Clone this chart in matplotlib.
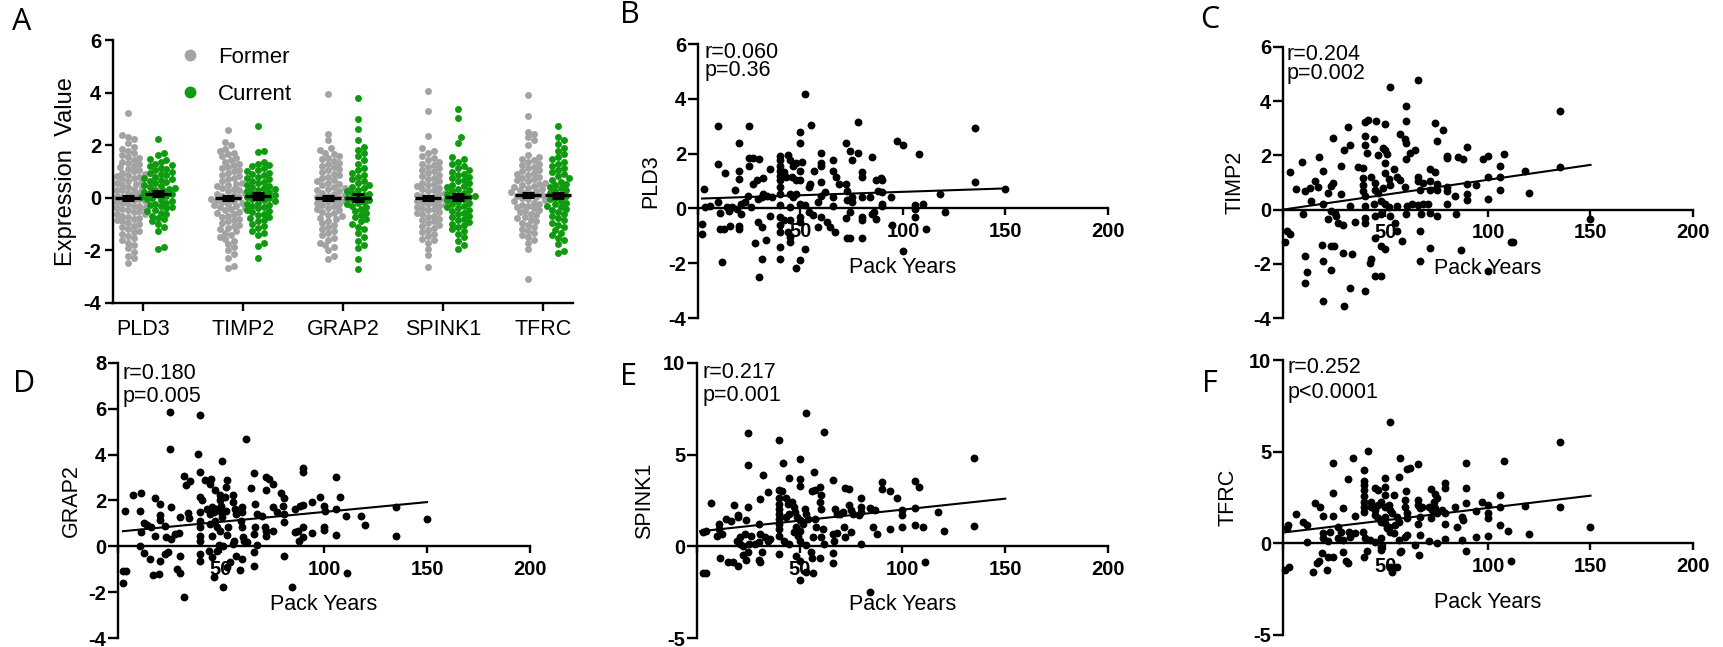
import numpy as np
import matplotlib
matplotlib.use('Agg')
import matplotlib.pyplot as plt
from matplotlib.lines import Line2D

plt.rcParams['font.family'] = 'sans-serif'
plt.rcParams['font.sans-serif'] = ['Liberation Sans', 'Arial', 'DejaVu Sans']
plt.rcParams['axes.unicode_minus'] = False

# ---------------- Panel A data (expression by smoking status) ----------------
genes = ['PLD3', 'TIMP2', 'GRAP2', 'SPINK1', 'TFRC']

former_pld3 = [3.23, 2.38, 2.3, 2.22, 2.08, 1.95, 1.85, 1.78, 1.7, 1.62, 1.55, 1.5, 1.44,
               1.38, 1.32, 1.28, 1.22, 1.16, 1.1, 1.05, 1.0, 0.96, 0.92, 0.88,
               0.84, 0.8, 0.76, 0.72, 0.68, 0.64, 0.6, 0.58, 0.54, 0.5, 0.46, 0.42, 0.38, 0.35, 0.3,
               0.28, 0.24, 0.2, 0.17, 0.13, 0.1, 0.06, 0.03, 0.0,
               -0.02, -0.06, -0.1, -0.13, -0.17, -0.2, -0.24, -0.27, -0.3,
               -0.33, -0.37, -0.4, -0.44, -0.48, -0.52, -0.55, -0.6,
               -0.63, -0.68, -0.72, -0.76, -0.8, -0.85, -0.9, -0.95, -1.0, -1.06, -1.12,
               -1.18, -1.25, -1.3, -1.38, -1.45, -1.52, -1.6, -1.7, -1.8, -1.92,
               -2.05, -2.2, -2.3, -2.48]
current_pld3 = [2.25, 1.7, 1.62, 1.48, 1.42, 1.36, 1.3, 1.25, 1.2, 1.14, 1.08,
                1.04, 0.98, 0.94, 0.9, 0.85, 0.8, 0.76, 0.72, 0.68, 0.64, 0.6, 0.55, 0.5,
                0.46, 0.42, 0.38, 0.34, 0.3, 0.26, 0.22, 0.18,
                0.14, 0.1, 0.06, 0.02, -0.02, -0.06, -0.1,
                -0.14, -0.18, -0.22, -0.27, -0.32, -0.36, -0.4, -0.45, -0.5, -0.56, -0.62,
                -0.68, -0.75, -0.82, -0.9, -1.0, -1.1, -1.25, -1.88, -1.93]
former_timp2 = [2.58, 2.12, 2.02, 1.85, 1.78, 1.72, 1.66, 1.58, 1.5, 1.44, 1.38,
                1.3, 1.24, 1.18, 1.12, 1.06, 1.0, 0.94, 0.88, 0.82, 0.76, 0.7,
                0.64, 0.58, 0.53, 0.48, 0.43, 0.38, 0.33,
                0.28, 0.24, 0.2, 0.15, 0.11, 0.07, 0.03, 0.0,
                -0.03, -0.07, -0.11, -0.15, -0.19, -0.23, -0.27, -0.31,
                -0.35, -0.4, -0.44, -0.48, -0.53, -0.58, -0.63,
                -0.68, -0.73, -0.79, -0.85, -0.9, -0.96,
                -1.02, -1.08, -1.14, -1.2, -1.27, -1.34, -1.4, -1.48, -1.56,
                -1.65, -1.75, -1.88, -2.0, -2.12, -2.3, -2.58, -2.66]
current_timp2 = [2.72, 1.78, 1.74, 1.35, 1.3, 1.25, 1.2, 1.12, 1.06, 1.0, 0.95, 0.9,
                 0.85, 0.8, 0.75, 0.7, 0.65, 0.6, 0.55, 0.5, 0.46, 0.42, 0.38, 0.34, 0.3,
                 0.26, 0.22, 0.18, 0.14, 0.1, 0.06, 0.02,
                 -0.02, -0.06, -0.1, -0.14, -0.18, -0.22, -0.26,
                 -0.3, -0.35, -0.4, -0.45, -0.5, -0.55, -0.6, -0.66, -0.72, -0.78, -0.84,
                 -0.9, -0.98, -1.06, -1.14, -1.25, -1.34, -1.42, -1.7, -1.82, -2.3]
former_grap2 = [3.93, 2.42, 2.2, 1.88, 1.8, 1.72, 1.66, 1.58, 1.52, 1.46, 1.4, 1.34,
                1.28, 1.22, 1.16, 1.1, 1.04, 0.98, 0.92, 0.86, 0.8, 0.74, 0.68, 0.62, 0.57,
                0.52, 0.47, 0.42, 0.37, 0.32, 0.28, 0.24, 0.2,
                0.16, 0.12, 0.08, 0.04, 0.0, -0.04, -0.08, -0.12,
                -0.16, -0.2, -0.24, -0.28, -0.33, -0.38, -0.43,
                -0.48, -0.53, -0.58, -0.64, -0.7, -0.76,
                -0.82, -0.88, -0.95, -1.02, -1.1, -1.18, -1.26, -1.34, -1.42,
                -1.52, -1.6, -1.7, -1.8, -1.88, -2.0, -2.2, -2.32]
current_grap2 = [3.8, 3.0, 2.6, 2.2, 1.92, 1.82, 1.7, 1.6, 1.45, 1.3,
                 1.15, 1.05, 0.95, 0.86, 0.78, 0.7, 0.62, 0.55, 0.48, 0.42, 0.36, 0.3, 0.25,
                 0.2, 0.15, 0.1, 0.05, 0.0, -0.05, -0.1,
                 -0.15, -0.2, -0.25, -0.3, -0.36, -0.42, -0.5, -0.58, -0.66, -0.74, -0.82,
                 -0.9, -1.0, -1.1, -1.2, -1.35, -1.5, -1.65, -1.8, -1.9, -2.34, -2.72]
former_spink1 = [4.07, 3.3, 2.34, 1.88, 1.78, 1.7, 1.6, 1.52, 1.45, 1.38,
                 1.3, 1.24, 1.18, 1.12, 1.06, 1.0, 0.94, 0.88, 0.82, 0.76, 0.7,
                 0.64, 0.58, 0.53, 0.48, 0.43, 0.38, 0.33,
                 0.28, 0.24, 0.2, 0.15, 0.11, 0.07, 0.03, 0.0,
                 -0.03, -0.07, -0.11, -0.15, -0.19, -0.23, -0.27, -0.31,
                 -0.35, -0.4, -0.44, -0.48, -0.53, -0.58, -0.63,
                 -0.68, -0.73, -0.79, -0.85, -0.9, -0.96,
                 -1.02, -1.08, -1.15, -1.22, -1.3, -1.38, -1.46, -1.55, -1.62,
                 -1.7, -1.95, -2.18, -2.65]
current_spink1 = [3.36, 3.05, 2.3, 2.1, 1.56, 1.46, 1.38, 1.3,
                  1.22, 1.14, 1.06, 0.98, 0.92, 0.86, 0.8, 0.74, 0.68, 0.62, 0.56,
                  0.5, 0.45, 0.4, 0.35, 0.3, 0.25, 0.2,
                  0.15, 0.1, 0.06, 0.02, -0.02, -0.06, -0.1,
                  -0.15, -0.2, -0.25, -0.3, -0.35, -0.4, -0.45,
                  -0.5, -0.56, -0.62, -0.68, -0.74, -0.8,
                  -0.86, -0.92, -0.98, -1.05, -1.12, -1.2, -1.28, -1.38,
                  -1.5, -1.65, -1.8, -1.95]
former_tfrc = [3.9, 3.1, 2.52, 2.44, 2.3, 2.2, 2.02, 1.62, 1.55, 1.48, 1.42,
               1.36, 1.3, 1.24, 1.18, 1.12, 1.06, 1.0, 0.95, 0.9, 0.85, 0.8, 0.75, 0.7,
               0.66, 0.62, 0.58, 0.54, 0.5, 0.46, 0.42, 0.38,
               0.34, 0.3, 0.26, 0.22, 0.18, 0.14, 0.1, 0.06, 0.02,
               -0.02, -0.06, -0.1, -0.14, -0.18, -0.22, -0.26, -0.3,
               -0.35, -0.4, -0.45, -0.5, -0.55, -0.6,
               -0.66, -0.72, -0.78, -0.84, -0.9, -0.96, -1.03, -1.1, -1.18,
               -1.26, -1.34, -1.42, -1.5, -1.6, -1.72, -1.95, -3.09]
current_tfrc = [2.74, 2.3, 2.2, 2.05, 1.9, 1.78, 1.66, 1.56, 1.46, 1.38, 1.3,
                1.22, 1.14, 1.06, 0.98, 0.9, 0.82, 0.75, 0.68, 0.61, 0.54, 0.48,
                0.42, 0.36, 0.3, 0.24, 0.18, 0.12, 0.06,
                0.0, -0.06, -0.12, -0.18, -0.24, -0.3,
                -0.36, -0.42, -0.48, -0.55, -0.62, -0.7, -0.78, -0.86, -0.94,
                -1.02, -1.12, -1.22, -1.32, -1.42, -1.52, -1.62, -1.77, -2.02, -2.1]

former_means = [0.0, 0.0, 0.0, 0.0, 0.1]
current_means = [0.16, 0.08, 0.01, 0.03, 0.09]
former_sem = [0.08, 0.08, 0.08, 0.08, 0.08]
current_sem = [0.11, 0.11, 0.12, 0.11, 0.11]

# ---------------- Panels B-F data: (pack years, expression) ----------------
pld3_points = [(52, 4.17), (10, 3.02), (25, 3.02), (55, 3.04), (78, 3.15), (135, 2.92), (50, 2.78), (50, 2.39),
               (20, 2.38), (72, 2.39), (97, 2.47), (100, 2.32), (108, 1.98), (10, 1.62), (13, 1.28), (20, 1.38),
               (20, 1.08), (18, 0.68), (3, 0.72), (25, 1.83), (27, 1.83), (30, 1.81), (25, 1.53), (27, 0.9),
               (29, 1.02), (31.5, 1.12), (35, 1.44), (40, 1.93), (40, 1.75), (40, 1.56), (40, 1.38), (40, 1.2),
               (40, 1.02), (40, 0.78), (40, 0.53), (40, 0.11), (40, -0.32), (40, -0.62), (40, -0.86), (40, -1.41),
               (40, -1.83), (44, 1.96), (45, 1.75), (46.5, 1.56), (48, 1.65), (50.5, 1.68), (42, 1.32), (43, 1.14),
               (46, 1.14), (48, 1.02), (50, 1.38), (50, 1.02), (54, 0.78), (54.5, 0.9), (56.5, 1.36), (45, 0.53),
               (46.5, 0.41), (48, 0.53), (50, 0.17), (52, 0.11), (45, 0.05), (54, -0.13), (56, -0.25), (50, -0.32),
               (50, -0.5), (45, -0.44), (42, -0.44), (44, -0.86), (45, -1.04), (45, -1.22), (52, -1.5), (50, -1.89),
               (48, -2.17), (30, -2.5), (31, -1.83), (28, -1.25), (33, -1.16), (29.5, -0.5), (31, -0.68), (35, -0.29),
               (11.5, -1.95), (2, -0.56), (2, -0.92), (10.5, -0.74), (12.5, -0.74), (15.5, -0.64), (20, -0.64),
               (20, -0.76), (10.5, -0.17), (15, -0.11), (21, -0.19), (3.5, 0.05), (6, 0.07), (10, 0.23), (14, 0.05),
               (16.5, 0.05), (19, -0.01), (21, 0.15), (23, 0.23), (24.5, 0.47), (26, 0.05), (29.5, 0.35), (31, 0.41),
               (33.5, 0.47), (36, 0.41), (31.5, 0.53), (60, 2.01), (60, 1.65), (60, 1.53), (60, 0.96), (60, 0.47),
               (58.5, 0.23), (60, -0.32), (58.5, -0.68), (62, 0.59), (63, -0.5), (64.5, -0.68), (66, 1.75), (66, 1.38),
               (67.5, 1.14), (66, 0.41), (66, 0.07), (67, -0.86), (69, 0.9), (72, 0.9), (72.5, 0.65), (72.5, 0.29),
               (72, -0.34), (72.5, -1.08), (74, -1.08), (75, 1.77), (74, 2.11), (78, 2.01), (75, 0.41), (75, 0.23),
               (74, -0.13), (80, 1.32), (80, 1.14), (80, 0.41), (80, -0.32), (80, -0.41), (80, -1.08), (84, 0.41),
               (85, 1.89), (85, -0.19), (86, -0.13), (87, 1.02), (89.5, 1.12), (90, 1.02), (88, 0.65), (90, 0.59),
               (90, 0.17), (90, 0.07), (87, -0.38), (94, 0.41), (94.5, -0.62), (100, -1.55), (106, 0.11),
               (106, -0.01), (106, -0.32), (110, 0.17), (111, -0.76), (118, 0.53), (120.5, -0.13), (135, 0.98),
               (150, 0.72)]

timp2_points = [(66, 4.78), (52, 4.51), (60, 3.84), (135, 3.62), (40, 3.23), (41.5, 3.29), (45.5, 3.26), (50, 3.17),
                (60, 3.26), (74, 3.2), (78, 2.95), (31.5, 3.05), (24.5, 2.65), (40, 2.71), (44.5, 2.6), (57, 2.78),
                (59.5, 2.62), (60, 2.46), (32.5, 2.4), (30, 2.2), (40, 2.38), (41, 2.1), (49, 2.29), (50, 2.2),
                (50.5, 2.07), (46.5, 2.01), (75, 2.52), (64.5, 2.2), (62, 2.1), (60, 1.85), (90, 2.32), (108, 2.07),
                (80, 1.98), (80, 1.89), (85.5, 1.95), (88, 1.85), (97.5, 1.85), (100, 1.98), (17.5, 1.93), (9.5, 1.77),
                (3.5, 1.38), (19.5, 1.43), (28.5, 1.61), (36.5, 1.56), (39, 1.52), (50, 1.71), (54, 1.49), (71.5, 1.5),
                (74, 1.4), (106, 1.61), (118, 1.44), (135, 1.59), (15.5, 1.07), (17, 0.85), (13, 0.79), (10.5, 0.67),
                (6.5, 0.76), (24.5, 1.0), (23.5, 0.88), (22, 0.61), (28.5, 0.57), (39, 1.16), (39, 0.91), (39, 0.67),
                (40, 0.49), (43, 1.22), (45, 0.98), (45, 0.71), (46.5, 0.61), (50, 1.34), (51.5, 1.12), (52, 0.91),
                (49, 0.79), (55.5, 1.22), (57, 1.1), (59.5, 0.85), (66, 1.22), (66, 1.07), (68.5, 0.98), (71.5, 1.04),
                (75, 0.95), (67, 0.73), (71.5, 0.73), (75, 0.73), (80, 0.83), (80, 0.67), (80, 0.22), (84, 0.49),
                (90, 0.95), (94, 0.9), (90, 0.57), (90, 0.37), (100, 1.2), (100, 0.39), (106, 1.22), (106, 0.73),
                (120, 0.63), (13.5, 0.3), (19.5, 0.22), (32.5, 0.12), (40, 0.12), (44.5, 0.22), (48, 0.3), (50, 0.21),
                (51.5, 0.09), (55.5, 0.15), (60.5, 0.12), (63, 0.22), (66, 0.18), (68.5, 0.21), (70.5, 0.21),
                (23.5, -0.06), (25.5, -0.12), (26, -0.24), (10, -0.18), (22, -0.34), (27, -0.49), (29.5, -0.55),
                (35, -0.45), (40, -0.3), (40, -0.49), (45, -0.24), (48, -0.18), (52, -0.24), (54.5, -0.49),
                (60, -0.15), (67.5, -0.16), (71.5, -0.12), (75, -0.24), (84.5, -0.18), (55.5, -0.79), (67, -0.79),
                (58, -1.16), (2, -0.79), (3.5, -0.91), (1, -1.2), (45, -1.04), (48, -1.34), (50, -1.46), (19, -1.29),
                (23.5, -1.34), (25, -1.34), (10.5, -1.71), (19.5, -1.91), (29.5, -1.59), (33.5, -1.62), (11.5, -2.29),
                (23.5, -2.22), (43, -1.83), (42.5, -1.98), (45, -2.46), (48, -2.44), (71.5, -1.4), (87, -1.5),
                (67, -1.89), (100, -2.26), (111, -1.2), (112, -1.2), (10.5, -2.71), (32.5, -2.9), (40, -3.02),
                (19.5, -3.38), (30, -3.56), (150, -0.34)]

grap2_points = [(25, 5.84), (40, 5.71), (25, 4.26), (62, 4.7), (39, 4.01), (50.5, 3.71), (32, 3.09), (35, 2.85),
                (33, 2.66), (40, 3.24), (42, 2.91), (45, 2.95), (44.5, 2.73), (47, 2.44), (53, 2.91), (52.5, 2.61),
                (66, 3.2), (64.5, 2.55), (72, 3.02), (73.5, 2.92), (75, 2.73), (72, 2.44), (90, 3.42), (90, 3.24),
                (106, 3.02), (7.5, 2.26), (11, 2.34), (3.5, 1.53), (10.5, 1.53), (18, 2.12), (20.5, 1.85), (25.5, 1.71),
                (20.5, 1.37), (20.5, 1.15), (12.5, 1.01), (14, 0.95), (11, 0.61), (16, 0.83), (23, 0.88), (30, 1.27),
                (34, 1.45), (34.5, 1.24), (40, 2.15), (41, 2.03), (40, 1.49), (40, 1.12), (40, 0.83), (40, 0.47),
                (40, 0.25), (43, 1.64), (44.5, 1.42), (45.5, 1.71), (46.5, 1.49), (47.5, 1.64), (49.5, 2.22),
                (49.5, 2.0), (50, 1.78), (50, 1.49), (50.5, 1.27), (52, 2.15), (52.5, 1.56), (47, 1.12), (48, 0.83),
                (44.5, 0.98), (45.5, 0.47), (49.5, 0.69), (53, 0.51), (53.5, 0.83), (56, 2.22), (56, 1.93), (57, 1.64),
                (57.5, 1.42), (60, 1.71), (60, 1.49), (59.5, 1.12), (60, 0.83), (60.5, 0.39), (62.5, 0.18),
                (66.5, 0.86), (66, 0.54), (67.5, 0.06), (66.5, 1.85), (67.5, 1.42), (70, 1.34), (71.5, 0.83),
                (72, 0.69), (75, 0.69), (72, 0.47), (75, 1.71), (77, 1.49), (79, 2.32), (80.5, 2.12), (80, 1.78),
                (80.5, 1.05), (80.5, 1.42), (86, 1.64), (88.5, 1.74), (86, 0.61), (87.5, 0.69), (88, 0.22), (90, 0.86),
                (90, 0.42), (90, 1.82), (94, 1.93), (98, 2.17), (94, 0.57), (100, 1.78), (100.5, 1.56), (100, 0.83),
                (100, 0.72), (106, 1.64), (106, 0.51), (108, 2.15), (110.5, 1.34), (118, 1.34), (120, 0.91),
                (135, 1.71), (135, 0.47), (150, 1.2), (2.5, -1.07), (4, -1.07), (2.5, -1.62), (10.5, 0.0),
                (12.5, -0.29), (15.5, -0.55), (17, -1.26), (20, -1.21), (20.5, -0.63), (23, -0.34), (24.5, -0.26),
                (30, -0.41), (28.5, -0.99), (30, -1.18), (32, -2.23), (40, -0.34), (40, -0.63), (44, -0.19),
                (45.5, -0.48), (46.5, -1.36), (48, -0.19), (51, -1.77), (53, -0.92), (54.5, -0.7), (57.5, -0.41),
                (60, -0.55), (59, -1.04), (66, -0.26), (66, -0.88), (80.5, -0.41), (84.5, -1.77), (111, -1.17),
                (49, 0.07), (51, 0.03), (56, 0.1), (56.5, 0.25), (61, 0.25), (18, 0.47), (23.5, 0.39), (25.5, 0.32),
                (27.5, 0.54), (29.5, 0.57)]

spink1_points = [(53, 7.28), (25, 6.18), (62, 6.24), (40, 5.82), (25, 4.44), (42, 4.53), (50, 4.77), (135, 4.81),
                 (57, 4.04), (32, 3.89), (45, 3.71), (50, 3.67), (50, 3.28), (66, 3.61), (34.5, 2.94), (30.5, 2.57),
                 (40, 3.06), (41.5, 3.01), (56, 3.03), (57.5, 3.06), (60, 3.25), (60.5, 2.79), (72, 3.19), (74, 3.1),
                 (90, 3.52), (90, 3.1), (94, 3.03), (106, 3.56), (108, 3.21), (97.5, 2.61), (7, 2.39), (18, 2.24),
                 (25, 2.15), (20, 1.69), (14, 1.51), (16.5, 1.38), (10.5, 1.23), (20, 1.6), (24, 1.41), (30, 1.23),
                 (3, 0.77), (4.5, 0.83), (10.5, 0.95), (12, 0.68), (9.5, 0.59), (40, 2.61), (40, 2.33), (40, 2.06),
                 (40, 1.78), (40, 1.51), (40, 1.23), (40, 0.95), (40, 0.59), (43.5, 2.61), (44.5, 2.33), (46, 2.42),
                 (47, 2.15), (47.5, 1.87), (45, 1.78), (43.5, 1.6), (48.5, 1.6), (50, 1.41), (52.5, 2.06), (53, 1.78),
                 (51.5, 1.23), (54, 1.51), (48, 1.05), (50, 0.86), (49, 0.59), (47, 0.77), (57.5, 1.51), (58, 1.05),
                 (60, 2.42), (60.5, 2.06), (61.5, 0.95), (56.5, 0.5), (60.5, 0.5), (62, 0.13), (66, 0.68), (68, 0.72),
                 (66.5, 0.31), (67, 2.06), (68, 1.78), (69.5, 1.78), (71, 1.87), (71.5, 1.05), (75, 0.77), (72, 0.5),
                 (74, 2.24), (75, 1.96), (76, 1.78), (79, 1.69), (80, 2.61), (80, 2.15), (80, 1.87), (84, 2.11),
                 (86.5, 1.96), (85.5, 1.08), (87.5, 0.68), (80, 0.13), (100, 1.96), (100, 1.69), (100, 1.05),
                 (106, 2.11), (106, 1.19), (110, 1.05), (117.5, 1.87), (120, 0.81), (135, 1.1), (94, 0.95), (21, 0.5),
                 (23.5, 0.68), (26.5, 0.59), (21, 0.13), (22.5, 0.04), (25.5, 0.13), (28, 0.13), (30, 0.22), (33, 0.5),
                 (34.5, 0.31), (19.5, 0.31), (30.5, 0.68), (35.5, 0.4), (42.5, 0.31), (45, 0.13), (50, 0.31),
                 (53, 0.09), (11, -0.61), (15, -0.88), (17.5, -0.84), (20, -1.1), (22.5, -0.46), (25, -0.29),
                 (24, -0.75), (30, -0.75), (30.5, -0.88), (31.5, -0.33), (40, -0.42), (48, -0.51), (50, -0.79),
                 (55.5, -0.33), (56, -0.61), (60, -0.61), (66, -0.39), (66, -0.92), (50, -1.83), (53, -1.38),
                 (56.5, -1.43), (3, -1.43), (4.5, -1.43), (84, -2.48), (111, -0.88)]

tfrc_points = [(52, 6.64), (135, 5.55), (41.5, 5.04), (34, 4.64), (57, 4.64), (24.5, 4.36), (60.5, 4.05), (62, 4.13),
               (66, 4.33), (89.5, 4.4), (108, 4.49), (39.5, 4.0), (39.5, 3.4), (39.5, 3.18), (39.5, 2.91), (39.5, 2.58),
               (39.5, 2.27), (39.5, 2.0), (39.5, 1.73), (31.5, 3.49), (50, 3.55), (56.5, 3.6), (45, 3.0), (46.5, 2.91),
               (50, 3.09), (50, 2.64), (60, 2.87), (54, 2.64), (72, 2.96), (74, 2.69), (75, 2.45), (73.5, 2.27),
               (79, 3.31), (79, 3.0), (89.5, 3.0), (106, 2.64), (24.5, 2.76), (15.5, 2.18), (18, 1.96), (6.5, 1.6),
               (19.5, 1.51), (24.5, 1.51), (29.5, 1.91), (35, 1.49), (10, 1.18), (11.5, 1.0), (2.5, 1.0), (2, 0.82),
               (43, 2.27), (43, 2.0), (45, 1.82), (46.5, 2.09), (48, 2.27), (50, 2.0), (51.5, 2.09), (52, 1.82),
               (53, 1.64), (45, 1.55), (46.5, 1.36), (48, 1.18), (50, 1.45), (50, 1.09), (51.5, 0.91), (52, 0.64),
               (50.5, 0.82), (55.5, 1.45), (56.5, 1.18), (54.5, 1.0), (59.5, 2.36), (59.5, 2.0), (60.5, 1.64),
               (60.5, 1.36), (66, 2.36), (66, 2.09), (67, 1.91), (68, 2.0), (71, 2.0), (72.5, 1.82), (74, 1.91),
               (75, 1.64), (67, 1.45), (72, 1.36), (66, 1.05), (77.5, 1.82), (79, 1.64), (79, 1.05), (84, 1.96),
               (85, 0.91), (87.5, 1.45), (88, 1.27), (89.5, 2.22), (94, 1.78), (97, 2.27), (100, 2.09), (100, 1.64),
               (100, 1.36), (106, 1.96), (106, 1.0), (110, 0.69), (118, 2.04), (120, 0.51), (135, 2.0), (150, 0.91),
               (94, 0.36), (100, 0.42), (19.5, 0.55), (23, 0.64), (27, 0.91), (28.5, 0.64), (11.5, 0.09), (19.5, 0.27),
               (22, 0.15), (27, 0.27), (29.5, 0.18), (32, 0.64), (32.5, 0.36), (35, 0.55), (39, 0.64), (40, 0.27),
               (42.5, 0.18), (45, 0.09), (48, 0.27), (48, -0.18), (48, -0.36), (54, 0.55), (56.5, 0.18), (59.5, 0.36),
               (60.5, 0.45), (64.5, -0.09), (67, 0.45), (71, 0.15), (75, 0.04), (79, 0.22), (87.5, 0.18),
               (89.5, -0.42), (66.5, -0.64), (57.5, -0.4), (19, -0.51), (22, -0.73), (24.5, -0.73), (17.5, -0.95),
               (16.5, -1.05), (21.5, -1.45), (14.5, -1.55), (29.5, -0.45), (30.5, -0.95), (31.5, -1.05),
               (39.5, -0.73), (41, -0.42), (1, -1.45), (3, -1.27), (52, -1.27), (53, -1.55), (55.5, -1.27),
               (57, -0.45), (111, -0.95)]

# regression line endpoints (pack years, fitted value)
fit_x = [[2, 150], [0, 150], [2.4, 150], [1.5, 150], [1, 150]]
fit_y = [[0.36, 0.73], [0.0, 1.65], [0.66, 1.93], [0.82, 2.6], [0.6, 2.6]]
r_text = ['r=0.060', 'r=0.204', 'r=0.180', 'r=0.217', 'r=0.252']
p_text = ['p=0.36', 'p=0.002', 'p=0.005', 'p=0.001', 'p<0.0001']

# ---------------- figure ----------------
W, H = 1724, 647
fig = plt.figure(figsize=(W / 100, H / 100), dpi=100)
GRAY = '#a3a3a3'
GREEN = '#0f9b0f'
LW = 1.7
TICK_FS = 14.5
LETTER_FONT = ['Open Sans', 'DejaVu Sans']


def add_axes_px(l, t, r, b):
    return fig.add_axes([l / W, 1 - b / H, (r - l) / W, (b - t) / H])


def fig_text(x, y, s, **kw):
    fig.text(x / W, 1 - y / H, s, **kw)


def swarm_offsets(vals, dot_px, px_x, px_y):
    vals = np.asarray(vals, dtype=float)
    out = np.zeros(len(vals))
    placed_x, placed_y = [], []
    step = dot_px * 0.5
    for i in np.argsort(vals):
        yp = vals[i] * px_y
        found = None
        k = 0
        while found is None:
            offs = [0.0] if k == 0 else [k * step, -k * step]
            for off in offs:
                if all((off - a) ** 2 + (yp - b) ** 2 >= dot_px ** 2
                       for a, b in zip(placed_x, placed_y)):
                    found = off
                    break
            k += 1
        out[i] = found / px_x
        placed_x.append(found)
        placed_y.append(yp)
    return out


# Panel A
axA = add_axes_px(113, 40, 573, 303)
axA.set_xlim(-0.3, 4.3)
axA.set_ylim(-4, 6)
px_x = 460 / 4.6
px_y = 263 / 10
former_sets = [former_pld3, former_timp2, former_grap2, former_spink1, former_tfrc]
current_sets = [current_pld3, current_timp2, current_grap2, current_spink1, current_tfrc]
for i in range(len(genes)):
    for vals, shift, col, means, sems in [(former_sets[i], -0.15, GRAY, former_means, former_sem),
                                          (current_sets[i], 0.15, GREEN, current_means, current_sem)]:
        xs = i + shift + swarm_offsets(vals, 5.6, px_x, px_y)
        axA.scatter(xs, vals, s=25, color=col, linewidths=0, zorder=2)
        axA.hlines(means[i], i + shift - 0.13, i + shift + 0.13, color='black', lw=2.4, zorder=4)
        axA.errorbar(i + shift, means[i], yerr=sems[i], color='black', lw=2.2,
                     capsize=4, capthick=2.2, zorder=4)
axA.spines[['top', 'right']].set_visible(False)
for s in ['left', 'bottom']:
    axA.spines[s].set_linewidth(LW)
axA.set_xticks(range(len(genes)), labels=genes, fontsize=15.5)
a_ticks = [-4, -2, 0, 2, 4, 6]
axA.set_yticks(a_ticks, labels=[str(v) for v in a_ticks], fontsize=TICK_FS, fontweight='bold')
axA.tick_params(axis='both', width=LW, length=5.5)
axA.tick_params(axis='y', pad=3)
axA.tick_params(axis='x', pad=6)
axA.set_ylabel('Expression  Value', fontsize=17)
axA.yaxis.set_label_coords(-36 / 460, 0.5)
handles = [Line2D([], [], ls='', marker='o', markersize=7.5, color=GRAY, label='Former'),
           Line2D([], [], ls='', marker='o', markersize=7.5, color=GREEN, label='Current')]
axA.legend(handles=handles, loc='upper left', bbox_to_anchor=(0.143, 0.975), frameon=False,
           fontsize=16, handlelength=1.0, handletextpad=0.75, labelspacing=0.72,
           borderpad=0, borderaxespad=0)

# Panels B-F
panels = [
    dict(rect=(698, 44, 1108, 318), pts=pld3_points, ylim=(-4, 6), yticks=[-4, -2, 0, 2, 4, 6],
         name='PLD3', lab_dx=-37, r_xy=(705, 58), p_y=76, letter='B', letter_xy=(620, 23)),
    dict(rect=(1283, 47, 1693, 318), pts=timp2_points, ylim=(-4, 6), yticks=[-4, -2, 0, 2, 4, 6],
         name='TIMP2', lab_dx=-37, r_xy=(1287, 60), p_y=79, letter='C', letter_xy=(1200, 28)),
    dict(rect=(118, 363, 530, 638), pts=grap2_points, ylim=(-4, 8), yticks=[-4, -2, 0, 2, 4, 6, 8],
         name='GRAP2', lab_dx=-36, r_xy=(123, 379), p_y=402, letter='D', letter_xy=(13, 392)),
    dict(rect=(697, 363, 1108, 638), pts=spink1_points, ylim=(-5, 10), yticks=[-5, 0, 5, 10],
         name='SPINK1', lab_dx=-42, r_xy=(703, 378), p_y=401, letter='E', letter_xy=(620, 385)),
    dict(rect=(1283, 360, 1693, 635), pts=tfrc_points, ylim=(-5, 10), yticks=[-5, 0, 5, 10],
         name='TFRC', lab_dx=-44, r_xy=(1288, 373), p_y=398, letter='F', letter_xy=(1202, 392)),
]

for k, pnl in enumerate(panels):
    l, t, r, b = pnl['rect']
    ax = add_axes_px(l, t, r, b)
    x, y = np.array(pnl['pts']).T
    ax.scatter(x, y, s=32, color='black', linewidths=0, zorder=3, clip_on=False)
    ax.plot(fit_x[k], fit_y[k], color='black', lw=1.5, zorder=4)
    ax.set_xlim(0, 200)
    ax.set_ylim(*pnl['ylim'])
    ax.spines[['top', 'right']].set_visible(False)
    ax.spines['bottom'].set_position(('data', 0))
    for s in ['left', 'bottom']:
        ax.spines[s].set_linewidth(LW)
    ax.set_xticks([0, 50, 100, 150, 200], labels=['', '50', '100', '150', '200'],
                  fontsize=TICK_FS, fontweight='bold')
    ax.set_yticks(pnl['yticks'], labels=[str(v) for v in pnl['yticks']],
                  fontsize=TICK_FS, fontweight='bold')
    ax.tick_params(axis='both', width=LW)
    ax.tick_params(axis='y', length=7, pad=1.5)
    ax.tick_params(axis='x', length=5, pad=5)
    ax.set_xlabel('Pack Years', fontsize=15.5, labelpad=11)
    ax.set_ylabel(pnl['name'], fontsize=15.5)
    ax.yaxis.set_label_coords(pnl['lab_dx'] / (r - l), 0.5)
    rx, ry = pnl['r_xy']
    fig_text(rx, ry, r_text[k], fontsize=15.5, va='baseline', ha='left')
    fig_text(rx, pnl['p_y'], p_text[k], fontsize=15.5, va='baseline', ha='left')
    lx, ly = pnl['letter_xy']
    fig_text(lx, ly, pnl['letter'], fontsize=22, va='baseline', ha='left', family=LETTER_FONT)

fig_text(12, 30, 'A', fontsize=22, va='baseline', ha='left', family=LETTER_FONT)

fig.savefig('out.png', dpi=100)
